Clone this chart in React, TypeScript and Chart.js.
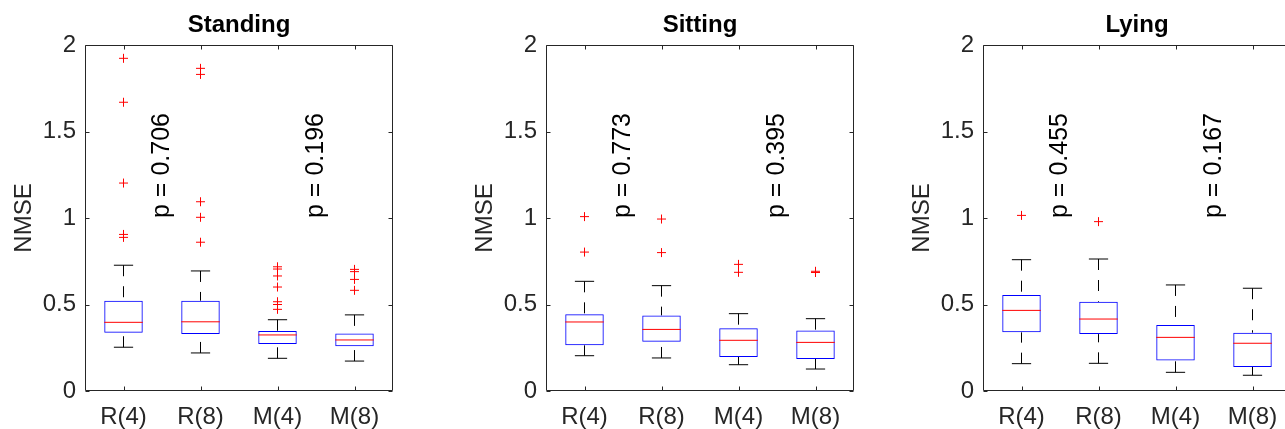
import React, { useEffect, useRef } from 'react';
import Chart from 'chart.js/auto';

const FONT = '"Liberation Sans", Arial, Helvetica, sans-serif';
const AXIS_COLOR = '#262626';
const BOX_COLOR = '#0000ff';
const MEDIAN_COLOR = '#ff0000';
const OUTLIER_COLOR = '#ff0000';
const WHISKER_COLOR = '#000000';

const categories = ['R(4)', 'R(8)', 'M(4)', 'M(8)'];
const yTickValues = [0, 0.5, 1, 1.5, 2];
const yTickLabels = ['0', '0.5', '1', '1.5', '2'];
const yAxisTitle = 'NMSE';
const panelTitles = ['Standing', 'Sitting', 'Lying'];

// p-value annotations: anchored between box pairs (1-based box positions) at NMSE = 1
const pLabelPositions = [1.5, 3.5];
const pLabelLevel = 1;

// Standing
const standingQ1 = [0.337, 0.330, 0.272, 0.258];
const standingMedian = [0.397, 0.400, 0.324, 0.295];
const standingQ3 = [0.522, 0.522, 0.347, 0.333];
const standingLow = [0.253, 0.220, 0.189, 0.173];
const standingHigh = [0.727, 0.694, 0.412, 0.440];
const standingOutliers = [
  [1.923, 1.669, 1.202, 0.905, 0.888],
  [1.865, 1.830, 1.094, 1.004, 0.860],
  [0.718, 0.705, 0.665, 0.601, 0.516, 0.500, 0.472],
  [0.703, 0.690, 0.645, 0.582],
];
const standingP = ['p = 0.706', 'p = 0.196'];

// Sitting
const sittingQ1 = [0.264, 0.285, 0.197, 0.185];
const sittingMedian = [0.399, 0.356, 0.293, 0.281];
const sittingQ3 = [0.443, 0.437, 0.362, 0.349];
const sittingLow = [0.204, 0.191, 0.152, 0.127];
const sittingHigh = [0.634, 0.609, 0.447, 0.418];
const sittingOutliers = [
  [1.008, 0.803],
  [0.994, 0.800],
  [0.732, 0.686],
  [0.692, 0.685],
];
const sittingP = ['p = 0.773', 'p = 0.395'];

// Lying
const lyingQ1 = [0.339, 0.329, 0.177, 0.139];
const lyingMedian = [0.466, 0.416, 0.310, 0.276];
const lyingQ3 = [0.555, 0.516, 0.381, 0.337];
const lyingLow = [0.158, 0.160, 0.108, 0.091];
const lyingHigh = [0.759, 0.763, 0.613, 0.594];
const lyingOutliers = [[1.015], [0.979], [], []];
const lyingP = ['p = 0.455', 'p = 0.167'];

Chart.defaults.font.family = FONT;

type PanelData = {
  title: string;
  q1: number[];
  median: number[];
  q3: number[];
  low: number[];
  high: number[];
  outliers: number[][];
  pLabels: string[];
};

const panels: PanelData[] = [
  { title: panelTitles[0], q1: standingQ1, median: standingMedian, q3: standingQ3, low: standingLow, high: standingHigh, outliers: standingOutliers, pLabels: standingP },
  { title: panelTitles[1], q1: sittingQ1, median: sittingMedian, q3: sittingQ3, low: sittingLow, high: sittingHigh, outliers: sittingOutliers, pLabels: sittingP },
  { title: panelTitles[2], q1: lyingQ1, median: lyingMedian, q3: lyingQ3, low: lyingLow, high: lyingHigh, outliers: lyingOutliers, pLabels: lyingP },
];

const panelLefts = [0, 461, 898];
const CANVAS_W = 400;
const CANVAS_H = 429;

function unitOf(chart: any): number {
  const s = chart.scales.x;
  if (!s) return 0;
  return Math.abs(s.getPixelForValue(1) - s.getPixelForValue(0));
}

const framePlugin = {
  id: 'matlabFrame',
  afterDatasetsDraw(chart: any) {
    const { ctx, chartArea } = chart;
    const x = chart.scales.x;
    const y = chart.scales.y;
    const L = Math.round(chartArea.left) + 0.5;
    const R = Math.round(chartArea.right) - 0.5;
    const T = Math.round(chartArea.top) + 0.5;
    const B = Math.round(chartArea.bottom) - 0.5;
    const tl = 4;
    ctx.save();
    ctx.strokeStyle = AXIS_COLOR;
    ctx.lineWidth = 1;
    ctx.beginPath();
    ctx.rect(L, T, R - L, B - T);
    x.ticks.forEach((_t: any, i: number) => {
      const px = Math.round(x.getPixelForTick(i)) + 0.5;
      ctx.moveTo(px, B);
      ctx.lineTo(px, B - tl);
      ctx.moveTo(px, T);
      ctx.lineTo(px, T + tl);
    });
    y.ticks.forEach((t: any) => {
      const py = Math.round(y.getPixelForValue(t.value)) + 0.5;
      ctx.moveTo(L, py);
      ctx.lineTo(L + tl, py);
      ctx.moveTo(R, py);
      ctx.lineTo(R - tl, py);
    });
    ctx.stroke();
    ctx.restore();
  },
};

const pLabelPlugin = {
  id: 'pLabels',
  afterDatasetsDraw(chart: any, _args: any, opts: any) {
    const labels: string[] = opts.labels || [];
    const { ctx } = chart;
    const x = chart.scales.x;
    const y = chart.scales.y;
    const unit = unitOf(chart);
    const x0 = x.getPixelForValue(0);
    ctx.save();
    ctx.fillStyle = '#000000';
    ctx.font = `25px ${FONT}`;
    ctx.textAlign = 'left';
    ctx.textBaseline = 'middle';
    labels.forEach((lab, i) => {
      const px = x0 + (pLabelPositions[i] - 1) * unit;
      const py = y.getPixelForValue(pLabelLevel);
      ctx.save();
      ctx.translate(px, py);
      ctx.rotate(-Math.PI / 2);
      ctx.fillText(lab, 0, 0);
      ctx.restore();
    });
    ctx.restore();
  },
};

function buildConfig(p: PanelData): any {
  const boxData = p.q1.map((v, i) => [v, p.q3[i]]);
  const whiskerPts: any[] = [];
  const capPts: any[] = [];
  const medPts: any[] = [];
  const outPts: any[] = [];
  categories.forEach((c, i) => {
    whiskerPts.push({ x: c, y: p.high[i] }, { x: c, y: p.q3[i] }, { x: c, y: null });
    whiskerPts.push({ x: c, y: p.low[i] }, { x: c, y: p.q1[i] }, { x: c, y: null });
    capPts.push({ x: c, y: p.high[i] }, { x: c, y: p.low[i] });
    medPts.push({ x: c, y: p.median[i] });
    p.outliers[i].forEach((v) => outPts.push({ x: c, y: v }));
  });

  return {
    type: 'bar',
    data: {
      labels: categories,
      datasets: [
        {
          type: 'line',
          data: whiskerPts,
          borderColor: WHISKER_COLOR,
          borderWidth: 1,
          borderDash: [11, 10],
          pointRadius: 0,
          spanGaps: false,
          tension: 0,
          fill: false,
          order: 5,
        },
        {
          type: 'bar',
          data: boxData,
          backgroundColor: 'rgba(0,0,0,0)',
          borderColor: BOX_COLOR,
          borderWidth: 1,
          borderSkipped: false,
          barPercentage: 0.5,
          categoryPercentage: 1,
          order: 4,
        },
        {
          type: 'line',
          data: capPts,
          showLine: false,
          pointStyle: 'line',
          pointRadius: (ctx: any) => unitOf(ctx.chart) * 0.125,
          pointBorderColor: WHISKER_COLOR,
          pointBackgroundColor: WHISKER_COLOR,
          pointBorderWidth: 1,
          order: 3,
        },
        {
          type: 'line',
          data: medPts,
          showLine: false,
          pointStyle: 'line',
          pointRadius: (ctx: any) => unitOf(ctx.chart) * 0.25,
          pointBorderColor: MEDIAN_COLOR,
          pointBackgroundColor: MEDIAN_COLOR,
          pointBorderWidth: 1,
          order: 2,
        },
        {
          type: 'line',
          data: outPts,
          showLine: false,
          pointStyle: 'cross',
          pointRadius: 4.5,
          pointBorderColor: OUTLIER_COLOR,
          pointBackgroundColor: OUTLIER_COLOR,
          pointBorderWidth: 1,
          order: 1,
        },
      ],
    },
    options: {
      responsive: false,
      animation: false,
      devicePixelRatio: 1,
      events: [],
      layout: { padding: { left: 0, right: CANVAS_W - 85 - 308, top: 0, bottom: 0 } },
      plugins: {
        legend: { display: false },
        tooltip: { enabled: false },
        title: {
          display: true,
          text: p.title,
          fullSize: false,
          color: '#000000',
          font: { size: 24, weight: 'bold', lineHeight: 1.2 },
          padding: { top: 11.2, bottom: 5 },
        },
        pLabels: { labels: p.pLabels },
      },
      scales: {
        x: {
          type: 'category',
          labels: categories,
          offset: true,
          grid: { display: false, drawTicks: false, offset: false },
          border: { display: false },
          ticks: { color: AXIS_COLOR, font: { size: 24 }, padding: 12, maxRotation: 0, autoSkip: false },
          afterFit: (s: any) => {
            s.height = 38;
          },
        },
        y: {
          min: 0,
          max: 2,
          grid: { display: false, drawTicks: false },
          border: { display: false },
          afterBuildTicks: (s: any) => {
            s.ticks = yTickValues.map((v) => ({ value: v }));
          },
          ticks: {
            color: AXIS_COLOR,
            font: { size: 24 },
            padding: 9,
            callback: (v: any) => {
              const idx = yTickValues.indexOf(Number(v));
              return idx >= 0 ? yTickLabels[idx] : '';
            },
          },
          title: {
            display: true,
            text: yAxisTitle,
            color: AXIS_COLOR,
            font: { size: 24, lineHeight: 1.2 },
            padding: { top: 9.5, bottom: 0 },
          },
          afterFit: (s: any) => {
            s.width = 85;
          },
        },
      },
    },
    plugins: [framePlugin, pLabelPlugin],
  };
}

function Panel({ data, left }: { data: PanelData; left: number }) {
  const ref = useRef<HTMLCanvasElement>(null);
  useEffect(() => {
    if (!ref.current) return;
    const chart = new Chart(ref.current, buildConfig(data));
    return () => chart.destroy();
  }, [data]);
  return (
    <canvas
      ref={ref}
      width={CANVAS_W}
      height={CANVAS_H}
      style={{ position: 'absolute', left, top: 0, width: CANVAS_W, height: CANVAS_H }}
    />
  );
}

export default function App() {
  return (
    <div
      style={{
        position: 'fixed',
        left: 0,
        top: 0,
        width: 1285,
        height: 429,
        overflow: 'hidden',
        background: '#ffffff',
      }}
    >
      {panels.map((p, i) => (
        <Panel key={p.title} data={p} left={panelLefts[i]} />
      ))}
    </div>
  );
}
